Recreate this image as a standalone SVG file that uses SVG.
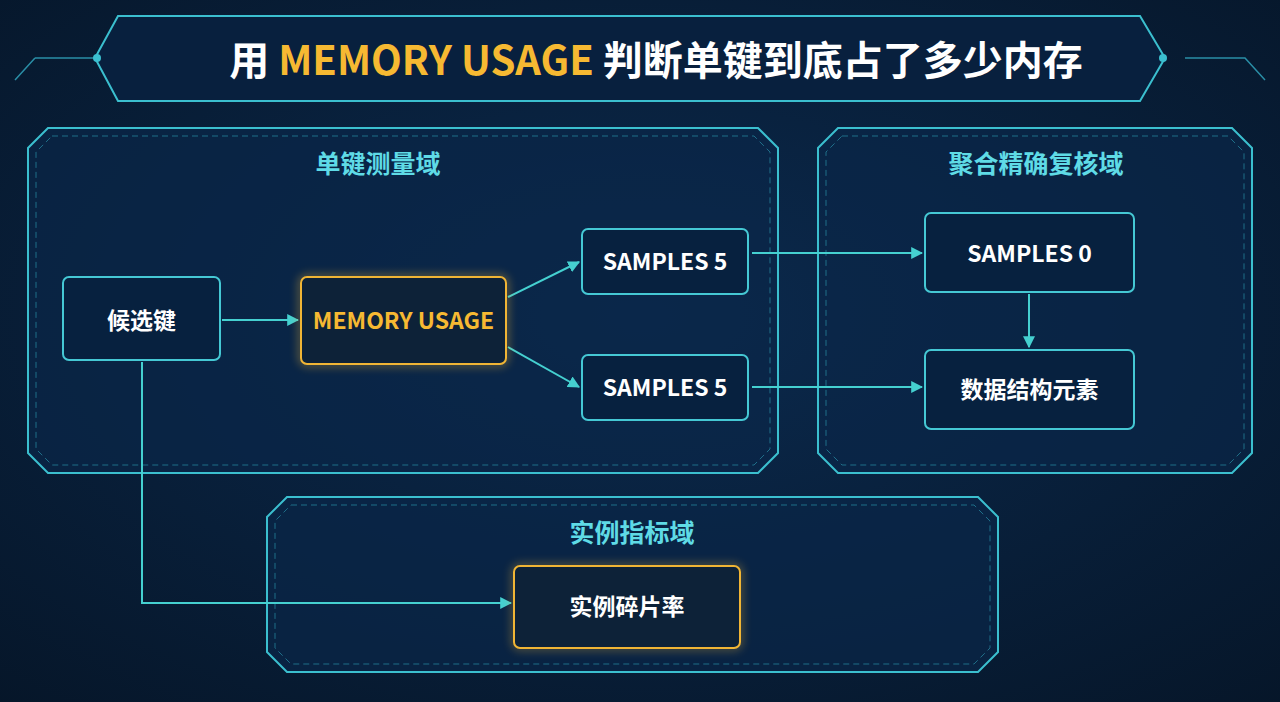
<svg xmlns="http://www.w3.org/2000/svg" width="1280" height="702" viewBox="0 0 1280 702">
<defs>
<radialGradient id="bg" cx="50%" cy="45%" r="75%"><stop offset="0" stop-color="#0b2a4e"/><stop offset="1" stop-color="#061629"/></radialGradient>
<marker id="ar" viewBox="0 0 10 10" refX="9" refY="5" markerWidth="6" markerHeight="6" orient="auto"><path d="M0,0 L10,5 L0,10 z" fill="#45d0d0"/></marker>
<filter id="glow" x="-20%" y="-20%" width="140%" height="140%"><feGaussianBlur stdDeviation="4"/></filter>
<style>
.pan{fill:#0a2649;fill-opacity:0.7;stroke:#3bbfcf;stroke-width:2}
.pin{fill:none;stroke:#2a8ea6;stroke-width:1;stroke-dasharray:6 4;opacity:0.7}
.nd{fill:#07213f;stroke:#45c8d4;stroke-width:2}
.gd{fill:#0d2238;stroke:#f0b535;stroke-width:2}
.t{font-family:"Noto Sans CJK SC","Noto Sans",sans-serif;font-weight:700;fill:#ffffff;text-anchor:middle;font-size:23px}
.pt{font-family:"Noto Sans CJK SC",sans-serif;font-weight:700;fill:#5fdbe6;text-anchor:middle;font-size:25px}
.c{fill:none;stroke:#45d0d0;stroke-width:2;marker-end:url(#ar)}
</style>
</defs>
<rect width="1280" height="702" fill="url(#bg)"/>
<g id="title">
<path d="M35,58 L95,58 M35,58 L15,80 M1185,58 L1245,58 L1265,80" stroke="#2a8ea6" stroke-width="1.5" fill="none"/>
<path d="M118,16 L1140,16 L1165,58 L1140,101 L118,101 L95,58 Z" fill="#08203e" stroke="#3bbfcf" stroke-width="2"/>
<circle cx="97" cy="58" r="4" fill="#3bbfcf"/><circle cx="1163" cy="58" r="4" fill="#3bbfcf"/>
<text x="656" y="75" class="t" style="font-size:40px">用 <tspan fill="#f6b932">MEMORY USAGE</tspan> 判断单键到底占了多少内存</text>
</g>
<g id="panel-single">
<path class="pan" d="M48,128 L758,128 L778,148 L778,453 L758,473 L48,473 L28,453 L28,148 Z"/>
<path class="pin" d="M52,136 L754,136 L770,152 L770,449 L754,465 L52,465 L36,449 L36,152 Z"/>
<text class="pt" x="378" y="173">单键测量域</text>
</g>
<g id="panel-agg">
<path class="pan" d="M838,128 L1232,128 L1252,148 L1252,453 L1232,473 L838,473 L818,453 L818,148 Z"/>
<path class="pin" d="M842,136 L1228,136 L1244,152 L1244,449 L1228,465 L842,465 L826,449 L826,152 Z"/>
<text class="pt" x="1036" y="173">聚合精确复核域</text>
</g>
<g id="panel-inst">
<path class="pan" d="M287,497 L978,497 L998,517 L998,652 L978,672 L287,672 L267,652 L267,517 Z"/>
<path class="pin" d="M291,505 L974,505 L990,521 L990,648 L974,664 L291,664 L275,648 L275,521 Z"/>
<text class="pt" x="632" y="542">实例指标域</text>
</g>
<g id="connectors">
<path class="c" d="M222,320 L298,320"/>
<path class="c" d="M508,297 L579,262"/>
<path class="c" d="M508,347 L579,387"/>
<path class="c" d="M752,253 L922,253"/>
<path class="c" d="M752,387 L922,387"/>
<path class="c" d="M1029,294 L1029,347"/>
<path class="c" d="M142,362 L142,603 L511,603"/>
</g>
<g id="n-candidate"><rect class="nd" x="63" y="277" width="157" height="83" rx="6"/><text class="t" x="141.5" y="329">候选键</text></g>
<g id="n-memusage"><rect x="301" y="277" width="205" height="87" rx="6" fill="none" stroke="#f0b535" stroke-width="6" opacity="0.4" filter="url(#glow)"/><rect class="gd" x="301" y="277" width="205" height="87" rx="6"/><text class="t" x="403.5" y="329" style="fill:#f6b932">MEMORY USAGE</text></g>
<g id="n-s5a"><rect class="nd" x="582" y="229" width="166" height="65" rx="6"/><text class="t" x="665" y="270">SAMPLES 5</text></g>
<g id="n-s5b"><rect class="nd" x="582" y="355" width="166" height="65" rx="6"/><text class="t" x="665" y="396">SAMPLES 5</text></g>
<g id="n-s0"><rect class="nd" x="925" y="213" width="209" height="79" rx="6"/><text class="t" x="1029.5" y="262">SAMPLES 0</text></g>
<g id="n-ds"><rect class="nd" x="925" y="350" width="209" height="79" rx="6"/><text class="t" x="1029.5" y="398">数据结构元素</text></g>
<g id="n-frag"><rect x="514" y="566" width="226" height="82" rx="6" fill="none" stroke="#f0b535" stroke-width="6" opacity="0.35" filter="url(#glow)"/><rect class="gd" x="514" y="566" width="226" height="82" rx="6"/><text class="t" x="627" y="615">实例碎片率</text></g>
</svg>
